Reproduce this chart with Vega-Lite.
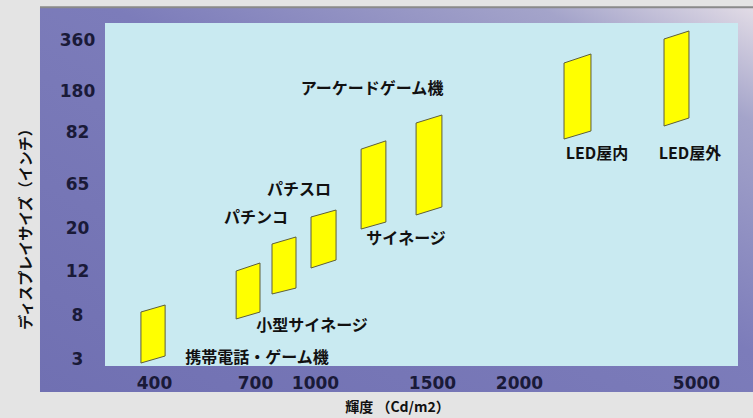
{
  "$schema": "https://vega.github.io/schema/vega-lite/v6.json",
  "width": 633,
  "height": 343,
  "autosize": {"type": "none"},
  "padding": {"left": 105, "top": 23, "right": 15, "bottom": 52},
  "background": "#e4e4e4",
  "config": {"view": {"stroke": null}, "font": "Noto Sans CJK JP"},
  "datasets": {
    "panel": [{"x": 51, "x2": 6086, "y": -0.77, "y2": 476}],
    "plot": [{"x": 250, "x2": 5800, "y": 2.2, "y2": 420}],
    "devices": [
      {"id": "携帯電話・ゲーム機", "x": 360, "y": 2.54, "y2": 8.27},
      {"id": "携帯電話・ゲーム機", "x": 433, "y": 3.34, "y2": 8.91},
      {"id": "小型サイネージ", "x": 644, "y": 7.55, "y2": 12.0},
      {"id": "小型サイネージ", "x": 725, "y": 8.27, "y2": 13.49},
      {"id": "パチンコ", "x": 785, "y": 9.91, "y2": 17.02},
      {"id": "パチンコ", "x": 905, "y": 10.45, "y2": 18.33},
      {"id": "パチスロ", "x": 980, "y": 12.56, "y2": 31.25},
      {"id": "パチスロ", "x": 1090, "y": 14.05, "y2": 38.4},
      {"id": "サイネージ", "x": 1197, "y": 19.81, "y2": 76.4},
      {"id": "サイネージ", "x": 1303, "y": 26.1, "y2": 79.1},
      {"id": "アーケードゲーム機", "x": 1432, "y": 33.3, "y2": 103.5},
      {"id": "アーケードゲーム機", "x": 1557, "y": 41.5, "y2": 122.6},
      {"id": "LED屋内", "x": 2763, "y": 79.7, "y2": 278.8},
      {"id": "LED屋内", "x": 3220, "y": 84.4, "y2": 310.6},
      {"id": "LED屋外", "x": 4458, "y": 96.3, "y2": 363.5},
      {"id": "LED屋外", "x": 4881, "y": 115.5, "y2": 391.8}
    ],
    "labels": [
      {"label": "携帯電話・ゲーム機", "x": 710, "y": 3.11},
      {"label": "小型サイネージ", "x": 985, "y": 6.75},
      {"label": "パチンコ", "x": 705, "y": 30.2},
      {"label": "パチスロ", "x": 920, "y": 58.9},
      {"label": "サイネージ", "x": 1389, "y": 17.95},
      {"label": "アーケードゲーム機", "x": 1244, "y": 187},
      {"label": "LED屋内", "x": 3322, "y": 74.8},
      {"label": "LED屋外", "x": 4898, "y": 74.8}
    ]
  },
  "encoding": {
    "x": {
      "field": "x",
      "type": "quantitative",
      "scale": {
        "domain": [250, 400, 700, 1000, 1500, 2000, 5000, 5800],
        "range": [0, 49, 150, 210, 327, 414, 591, 633],
        "zero": false,
        "nice": false
      },
      "axis": {
        "values": [400, 700, 1000, 1500, 2000, 5000],
        "format": "d",
        "zindex": 2,
        "domain": false,
        "ticks": false,
        "tickSize": 0,
        "grid": false,
        "labelFlush": false,
        "labelOverlap": false,
        "labelBound": false,
        "labelFont": "DejaVu Sans",
        "labelFontWeight": "bold",
        "labelFontSize": 17,
        "labelColor": "#1a1a38",
        "labelPadding": 9,
        "labelBaseline": "top",
        "title": "輝度 （Cd/m2）",
        "titleFont": "Noto Sans CJK JP",
        "titleFontSize": 14,
        "titleFontWeight": "bold",
        "titleColor": "#111111",
        "titleX": 292,
        "titleY": 41,
        "titleAlign": "center",
        "titleBaseline": "middle"
      }
    },
    "y": {
      "field": "y",
      "type": "quantitative",
      "scale": {
        "domain": [2.2, 3, 8, 12, 20, 65, 82, 180, 360, 420],
        "range": [343, 336, 292, 248, 205, 161, 109, 68, 17, 0],
        "zero": false,
        "nice": false
      },
      "axis": {
        "values": [3, 8, 12, 20, 65, 82, 180, 360],
        "format": "d",
        "zindex": 2,
        "domain": false,
        "ticks": false,
        "tickSize": 0,
        "grid": false,
        "labelFlush": false,
        "labelOverlap": false,
        "labelBound": false,
        "labelFont": "DejaVu Sans",
        "labelFontWeight": "bold",
        "labelFontSize": 17,
        "labelColor": "#1a1a38",
        "labelPadding": 28,
        "labelAlign": "center",
        "labelBaseline": "middle",
        "title": "ディスプレイサイズ（インチ）",
        "titleFont": "Noto Sans CJK JP",
        "titleFontSize": 15,
        "titleFontWeight": "bold",
        "titleColor": "#111111",
        "titleX": -80,
        "titleY": 202,
        "titleAngle": 270,
        "titleAlign": "center",
        "titleBaseline": "middle"
      }
    }
  },
  "layer": [
    {
      "data": {"name": "panel"},
      "mark": {
        "type": "rect",
        "fill": {
          "gradient": "linear",
          "x1": 0, "y1": 1, "x2": 1, "y2": 0,
          "stops": [
            {"offset": 0, "color": "#7070b2"},
            {"offset": 0.55, "color": "#7c7cba"},
            {"offset": 0.85, "color": "#a4a4ca"},
            {"offset": 1, "color": "#e2dce6"}
          ]
        }
      },
      "encoding": {"x2": {"field": "x2"}, "y2": {"field": "y2"}}
    },
    {
      "data": {"name": "panel"},
      "mark": {"type": "rule", "stroke": "#8a8a8a", "strokeWidth": 2},
      "encoding": {"y": {"field": "y2", "type": "quantitative"}, "x2": {"field": "x2"}}
    },
    {
      "data": {"name": "plot"},
      "mark": {"type": "rect", "fill": "#c9eaf1"},
      "encoding": {"x2": {"field": "x2"}, "y2": {"field": "y2"}}
    },
    {
      "data": {"name": "devices"},
      "mark": {"type": "area", "fill": "#ffff00", "fillOpacity": 1, "stroke": "#5e5e3a", "strokeWidth": 1},
      "encoding": {"y2": {"field": "y2"}, "detail": {"field": "id"}}
    },
    {
      "data": {"name": "labels"},
      "mark": {"type": "text", "font": "Noto Sans CJK JP", "fontWeight": "bold", "fontSize": 16, "color": "#111111", "align": "center", "baseline": "middle"},
      "encoding": {"text": {"field": "label"}}
    }
  ]
}
